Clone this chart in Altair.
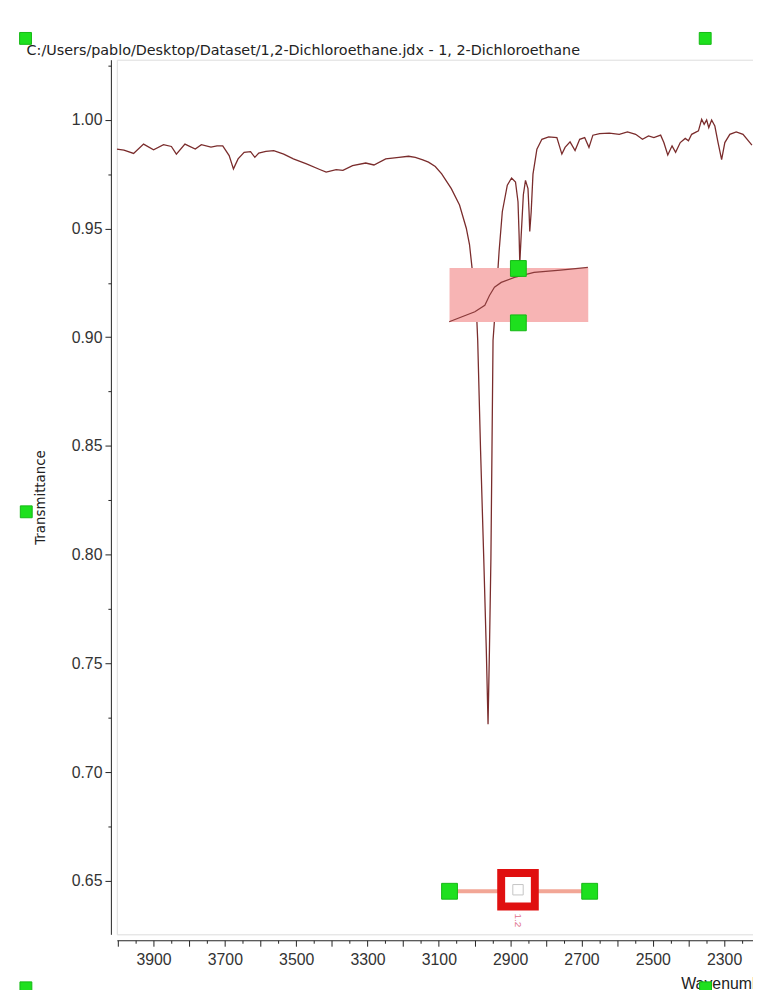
import altair as alt
import pandas as pd

# ---- spectrum ----
wavenumber = [4003, 3983, 3956, 3928, 3900, 3872, 3850, 3836, 3812, 3783, 3766, 3739, 3722, 3706,
              3688, 3676, 3663, 3646, 3628, 3616, 3605, 3585, 3563, 3535, 3508, 3471, 3434, 3416,
              3388, 3369, 3342, 3305, 3282, 3249, 3212, 3185, 3166, 3145, 3129, 3110, 3092, 3065,
              3042, 3023, 3014, 3005, 2995, 2991, 2983, 2974, 2967, 2962, 2958, 2954, 2951, 2948,
              2940, 2931, 2922, 2908, 2896, 2885, 2878, 2875, 2873, 2869, 2863, 2857, 2850, 2847,
              2845, 2841, 2836, 2825, 2811, 2792, 2769, 2755, 2746, 2732, 2718, 2705, 2691, 2679,
              2668, 2649, 2622, 2594, 2571, 2548, 2529, 2512, 2497, 2478, 2469, 2458, 2446, 2436,
              2423, 2409, 2400, 2391, 2372, 2363, 2356, 2349, 2343, 2335, 2326, 2317, 2307, 2298,
              2284, 2266, 2247, 2222]
transmittance = [0.9865, 0.9860, 0.9845, 0.9888, 0.9862, 0.9885, 0.9877, 0.9842, 0.9888, 0.9865,
                 0.9885, 0.9874, 0.9880, 0.9880, 0.9835, 0.9774, 0.9820, 0.9850, 0.9853, 0.9827,
                 0.9847, 0.9855, 0.9858, 0.9842, 0.9820, 0.9797, 0.9771, 0.9759, 0.9771, 0.9767,
                 0.9789, 0.9801, 0.9792, 0.9820, 0.9827, 0.9832, 0.9827, 0.9815, 0.9805, 0.9785,
                 0.9751, 0.9683, 0.9608, 0.9501, 0.9426, 0.9290, 0.9138, 0.8986, 0.848, 0.798,
                 0.757, 0.722, 0.757, 0.798, 0.848, 0.8986, 0.9168, 0.9395, 0.9577, 0.9699,
                 0.9732, 0.9714, 0.9623, 0.9473, 0.9340, 0.9470, 0.9655, 0.9721, 0.9683, 0.9577,
                 0.9486, 0.9577, 0.9750, 0.9865, 0.9910, 0.9921, 0.9918, 0.9842, 0.9873, 0.9898,
                 0.9858, 0.9910, 0.9918, 0.9873, 0.9929, 0.9936, 0.9938, 0.9933, 0.9944, 0.9933,
                 0.9910, 0.9926, 0.9918, 0.9929, 0.9895, 0.9838, 0.9880, 0.9850, 0.9895, 0.9914,
                 0.9903, 0.9933, 0.9949, 1.0002, 0.9979, 0.9999, 0.9964, 0.9999, 0.9971, 0.9895,
                 0.9817, 0.9895, 0.9933, 0.9944, 0.9933, 0.9883]

# ---- integration curve ----
integral_wn = [3071, 2999, 2971, 2958, 2944, 2925, 2888, 2833, 2759, 2682]
integral_t = [0.9071, 0.9117, 0.9147, 0.9192, 0.9230, 0.9252, 0.9275, 0.9298, 0.9308, 0.9321]

# ---- integration region box ----
box_wn = [3070]
box_wn2 = [2681]
box_t = [0.9070]
box_t2 = [0.9318]

# ---- handles ----
plot_handle_wn = [2877, 2877, 3070, 2677]
plot_handle_t = [0.9316, 0.9066, 0.6452, 0.6452]
frame_handle_wn = [4259, 2353, 4257, 4258, 2352]
frame_handle_t = [1.0374, 1.0374, 0.8197, 0.6008, 0.6008]

# ---- peak-range widget ----
range_wn = [3070, 2677]
range_t = [0.6452, 0.6452]
marker_wn = [2878]
marker_t = [0.6459]
marker_label = ["1.2"]
marker_label_t = [0.6318]

# ---- header text ----
title_text = ["C:/Users/pablo/Desktop/Dataset/1,2-Dichloroethane.jdx - 1, 2-Dichloroethane"]
title_wn = [4256]
title_t = [1.0299]

x_ticks = list(range(4000, 2200, -50))
y_ticks = [round(0.625 + 0.025 * i, 3) for i in range(17)]

FONT = "Liberation Sans"
TFONT = "DejaVu Sans"
spec_df = pd.DataFrame({"wn": wavenumber, "t": transmittance})
int_df = pd.DataFrame({"wn": integral_wn, "t": integral_t})
box_df = pd.DataFrame({"wn": box_wn, "wn2": box_wn2, "t": box_t, "t2": box_t2})
ph_df = pd.DataFrame({"wn": plot_handle_wn, "t": plot_handle_t})
fh_df = pd.DataFrame({"wn": frame_handle_wn, "t": frame_handle_t})
rng_df = pd.DataFrame({"wn": range_wn, "t": range_t})
mk_df = pd.DataFrame({"wn": marker_wn, "t": marker_t})
lbl_df = pd.DataFrame({"wn": marker_wn, "t": marker_label_t, "txt": marker_label})
ttl_df = pd.DataFrame({"wn": title_wn, "t": title_t, "txt": title_text})

x_major = "datum.value % 100 === 0"
y_major = "abs(datum.value * 20 - round(datum.value * 20)) < 0.001"

X_AXIS = alt.Axis(
    values=x_ticks,
    labelExpr="(datum.value + 100) % 200 === 0 ? format(datum.value, 'd') : ''",
    tickSize={"condition": {"test": x_major, "value": 6}, "value": 3},
    offset=6, grid=False, labelFlush=False, labelOverlap=False,
    domainColor="#222", tickColor="#222", labelColor="#333",
    labelFont=FONT, labelFontSize=16, labelPadding=5,
    title="Wavenumber", titleFont=FONT, titleFontSize=16, titleFontWeight="normal",
    titleColor="#222", titleAlign="left", titleBaseline="top", titleX=570, titleY=36,
)
Y_AXIS = alt.Axis(
    values=y_ticks,
    labelExpr=y_major + " ? format(datum.value, '.2f') : ''",
    tickSize={"condition": {"test": y_major, "value": 6}, "value": 3},
    offset=6, grid=False, labelFlush=False, labelOverlap=False,
    domainColor="#222", tickColor="#222", labelColor="#333",
    labelFont=FONT, labelFontSize=16, labelPadding=3,
    title="Transmittance", titleFont=TFONT, titleFontSize=13.5, titleFontWeight="normal",
    titleColor="#222", titlePadding=24,
)
X_SCALE = alt.Scale(domain=[4003, 2219], nice=False, zero=False)
Y_SCALE = alt.Scale(domain=[0.6254, 1.0276], nice=False, zero=False)


def xe(field="wn"):
    return alt.X(f"{field}:Q", scale=X_SCALE, axis=X_AXIS, title="Wavenumber")


def ye(field="t"):
    return alt.Y(f"{field}:Q", scale=Y_SCALE, axis=Y_AXIS, title="Transmittance")


box = alt.Chart(box_df).mark_rect(color="#f7b4b4").encode(
    x=xe(), x2="wn2", y=ye(), y2="t2")
integ = alt.Chart(int_df).mark_line(color="#8a3a3a", strokeWidth=1.2).encode(
    x=xe(), y=ye(), order="wn:Q")
spectrum = alt.Chart(spec_df).mark_line(color="#7a2c2c", strokeWidth=1.3, clip=True).encode(
    x=xe(), y=ye(), order=alt.Order("wn:Q", sort="descending"))
rng = alt.Chart(rng_df).mark_line(color="#f2a696", strokeWidth=4).encode(x=xe(), y=ye())
marker = alt.Chart(mk_df).mark_square(size=1156, fill="white", stroke="#e01010",
                                      strokeWidth=8, opacity=1).encode(x=xe(), y=ye())
inner = alt.Chart(mk_df).mark_square(size=110, fill="white", stroke="#c4c4c4",
                                     strokeWidth=1, opacity=1).encode(x=xe(), y=ye())
label = alt.Chart(lbl_df).mark_text(angle=90, color="#e0708c", fontSize=10, font=FONT).encode(
    x=xe(), y=ye(), text="txt:N")
ph = alt.Chart(ph_df).mark_square(size=256, fill="#1ee01e", stroke="#14b814",
                                  strokeWidth=1, opacity=1).encode(x=xe(), y=ye())
fh = alt.Chart(fh_df).mark_square(size=144, fill="#1ee01e", stroke="#14b814",
                                  strokeWidth=1, opacity=1).encode(x=xe(), y=ye())
header = alt.Chart(ttl_df).mark_text(align="left", baseline="alphabetic", font=TFONT,
                                     fontSize=14.5, color="#222").encode(
    x=xe(), y=ye(), text="txt:N")

chart = alt.layer(spectrum, box, integ, rng, marker, inner, label, ph, fh, header).properties(
    width=643, height=884,
    autosize=alt.AutoSizeParams(type="none"),
    padding={"left": 110, "top": 47, "right": 0, "bottom": 51},
).configure_view(stroke="#d4d4d4", strokeWidth=1).configure(background="white")

chart.save("out.html", embed_options={"renderer": "svg", "actions": False})
